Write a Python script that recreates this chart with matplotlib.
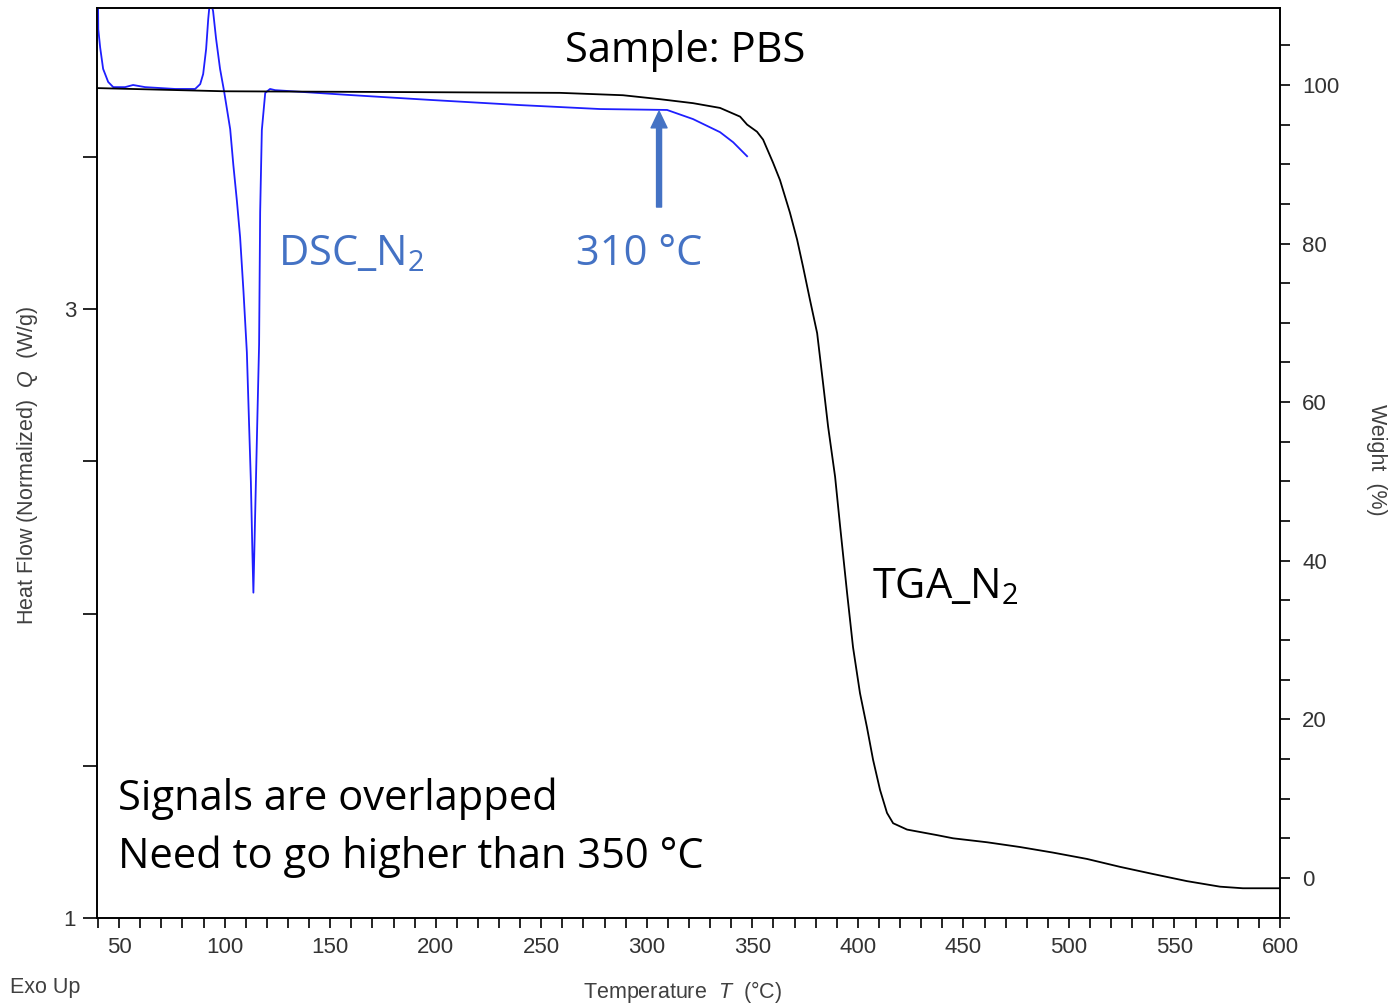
import matplotlib
matplotlib.use('Agg')
import matplotlib.pyplot as plt
from matplotlib.ticker import MultipleLocator, FixedLocator

plt.rcParams['font.family'] = ['Liberation Sans', 'DejaVu Sans']
plt.rcParams['mathtext.fontset'] = 'custom'
plt.rcParams['mathtext.rm'] = 'Liberation Sans'
plt.rcParams['mathtext.it'] = 'Liberation Sans:italic'
plt.rcParams['mathtext.default'] = 'regular'

# DSC curve (temperature in °C, heat flow in W/g)
dsc_temp = [39.6, 40.1, 41.0, 42.4, 44.8, 47.2, 52.8, 56.6, 62.3, 76.5, 86.0,
            88.4, 89.8, 91.2, 92.2, 93.1, 94.5, 95.9, 97.8, 99.7,
            102.6, 104.1, 105.8, 107.3, 108.9, 110.5, 111.6, 112.4, 113.1, 113.6,
            114.4, 115.5, 116.3, 116.8, 117.6, 119.2, 121.5,
            123.9, 159.4, 197.3, 240.0, 277.9, 309.6, 321.9, 334.7, 340.9, 347.5]
dsc_heat = [4.30, 3.92, 3.86, 3.79, 3.747, 3.73, 3.73, 3.737, 3.73, 3.724, 3.724,
            3.74, 3.773, 3.855, 3.954, 4.02, 3.98, 3.89, 3.79, 3.717,
            3.592, 3.474, 3.355, 3.237, 3.059, 2.859, 2.612, 2.434, 2.21, 2.069,
            2.316, 2.648, 2.885, 3.319, 3.589, 3.711, 3.724,
            3.720, 3.704, 3.688, 3.671, 3.658, 3.655, 3.625, 3.582, 3.549, 3.503]

# TGA curve (temperature in °C, weight in %)
tga_temp = [39.6, 99.7, 183.1, 258.9, 288.7, 306.3, 321.9, 334.7, 344.2, 347.5,
            352.2, 355.1, 359.8, 363.1, 367.8, 371.2, 374.0, 377.3, 380.7, 383.5,
            385.9, 389.2, 391.6, 394.9, 397.7, 401.0, 404.3, 407.2, 410.5, 413.8,
            416.7, 423.3, 437.5, 445.1, 461.2, 476.8, 492.4, 508.5, 524.2, 539.8,
            555.9, 571.6, 582.4, 600.0]
tga_weight = [99.6, 99.2, 99.1, 99.0, 98.7, 98.2, 97.7, 97.1, 96.0, 95.0,
              94.1, 93.1, 90.2, 88.0, 83.9, 80.5, 77.1, 72.9, 68.7, 62.4,
              56.9, 50.6, 44.3, 35.9, 29.1, 23.3, 19.0, 14.9, 11.1, 8.2,
              6.9, 6.1, 5.4, 5.0, 4.5, 3.9, 3.2, 2.4, 1.4, 0.5,
              -0.4, -1.1, -1.3, -1.3]

onset_temp = 305.8
onset_heat = 3.651

fig = plt.figure(figsize=(13.89, 10.08), dpi=100)
ax = fig.add_axes([97/1389, 1 - 918/1008, (1280-97)/1389, (918-8)/1008])
ax2 = ax.twinx()

ax.plot(dsc_temp, dsc_heat, color='#1f1fff', lw=1.3, zorder=3)
ax2.plot(tga_temp, tga_weight, color='black', lw=1.3)

ax.set_xlim(39.5, 600)
ax.set_ylim(1, 3.99)
ax2.set_ylim(-5.05, 109.7)

tick_col = '#333333'
ax.xaxis.set_major_locator(MultipleLocator(50))
ax.xaxis.set_minor_locator(MultipleLocator(10))
ax.yaxis.set_major_locator(FixedLocator([1, 3]))
ax.yaxis.set_minor_locator(FixedLocator([1.5, 2, 2.5, 3.5]))
ax2.yaxis.set_major_locator(FixedLocator([0, 20, 40, 60, 80, 100]))
ax2.yaxis.set_minor_locator(MultipleLocator(5))

for a in (ax, ax2):
    a.tick_params(which='both', direction='out', colors='black', labelcolor=tick_col,
                  labelsize=16, width=1.2)
    for s in a.spines.values():
        s.set_linewidth(1.2)
ax.tick_params(axis='y', which='both', length=10, pad=5)
ax.tick_params(axis='x', which='both', length=7, pad=7)
ax2.tick_params(axis='y', which='both', length=7, pad=9)
ax.xaxis.set_major_formatter(plt.FuncFormatter(lambda v, p: f'{v:.0f}'))

# annotations
blue = '#4472C4'
big = dict(family=['Open Sans', 'DejaVu Sans'], fontsize=30)
ax.text(0.497, 0.9407, 'Sample: PBS', transform=ax.transAxes, ha='center',
        va='baseline', color='black', **big)
ax.text(0.153, 0.7176, r'DSC_N$_\mathregular{2}$', transform=ax.transAxes,
        ha='left', va='baseline', color=blue, **big)
ax.text(0.405, 0.7176, '310 °C', transform=ax.transAxes, ha='left',
        va='baseline', color=blue, **big)
ax.text(0.655, 0.3516, r'TGA_N$_\mathregular{2}$', transform=ax.transAxes,
        ha='left', va='baseline', color='black', **big)
ax.text(0.0178, 0.1187, 'Signals are overlapped', transform=ax.transAxes,
        ha='left', va='baseline', color='black', **big)
ax.text(0.0178, 0.0549, 'Need to go higher than 350 °C', transform=ax.transAxes,
        ha='left', va='baseline', color='black', **big)

ax.annotate('', xy=(onset_temp, onset_heat), xytext=(onset_temp, 3.336),
            arrowprops=dict(width=3.6, headwidth=11.5, headlength=12,
                            facecolor=blue, edgecolor=blue, shrink=0))

lab_col = '#404040'
fig.text(28/1389, 1 - 465/1008, r'Heat Flow (Normalized)  $\mathit{Q}$  (W/g)',
         rotation=90, ha='center', va='center', fontsize=15.5, color=lab_col)
fig.text(1377/1389, 1 - 460/1008, 'Weight  (%)', rotation=270,
         ha='center', va='center', fontsize=15.5, color=lab_col)
fig.text(683/1389, 1 - 992/1008, r'Temperature  $\mathit{T}$  (°C)',
         ha='center', va='center', fontsize=15.5, color=lab_col)
fig.text(10/1389, 1 - 988/1008, 'Exo Up', ha='left', va='center',
         fontsize=15.5, color=lab_col)

fig.savefig('out.png', dpi=100)
